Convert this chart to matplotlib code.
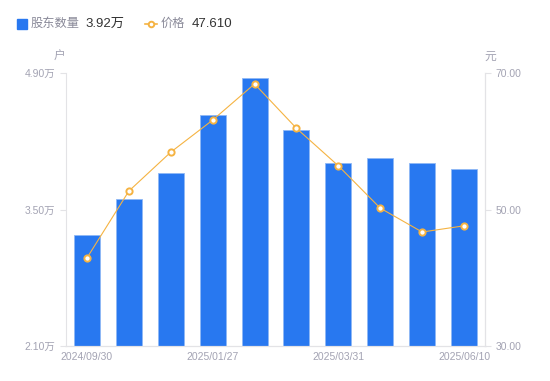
import matplotlib.pyplot as plt
import numpy as np

plt.rcParams['font.family'] = ['Liberation Sans', 'Noto Sans CJK SC', 'DejaVu Sans']

dates = ['2024/09/30', '2024/10/31', '2024/12/31', '2025/01/27', '2025/02/10',
         '2025/02/28', '2025/03/31', '2025/04/30', '2025/05/20', '2025/06/10']
holders = [3.24, 3.61, 3.87, 4.47, 4.85, 4.32, 3.98, 4.03, 3.98, 3.92]  # 万户
price = [42.9, 52.7, 58.4, 63.1, 68.4, 61.9, 56.4, 50.2, 46.7, 47.61]
left_ticks = [2.10, 3.50, 4.90]
right_ticks = [30.00, 50.00, 70.00]
shown_dates = ['2024/09/30', '2025/01/27', '2025/03/31', '2025/06/10']

bar_color = '#2878f0'
line_color = '#f5b342'
axis_grey = '#e3e3e6'
text_grey = '#a3a3b3'

fig = plt.figure(figsize=(5.5, 3.81), dpi=100)
ax = fig.add_axes([66 / 550, 1 - 346 / 381, 419 / 550, 273 / 381])
x = np.arange(len(dates))

ax.bar(x, holders, width=0.62, color=bar_color, edgecolor='#8fb8f5', linewidth=0.6, zorder=2)
ax.set_xlim(-0.5, len(dates) - 0.5)
ax.set_ylim(left_ticks[0], left_ticks[-1])
ax.set_yticks(left_ticks)
ax.set_yticklabels([f'{v:.2f}万' for v in left_ticks])
ax.set_xticks([dates.index(d) for d in shown_dates])
ax.set_xticklabels(shown_dates)

ax2 = ax.twinx()
ax2.plot(x, price, color=line_color, linewidth=0.8, marker='o', markersize=4.5,
         markerfacecolor='white', markeredgecolor=line_color, markeredgewidth=1.4, zorder=3)
ax2.set_ylim(right_ticks[0], right_ticks[-1])
ax2.set_yticks(right_ticks)
ax2.set_yticklabels([f'{v:.2f}' for v in right_ticks])

for a in (ax, ax2):
    for s in a.spines.values():
        s.set_color(axis_grey)
    a.spines['top'].set_visible(False)
    a.tick_params(colors=axis_grey, labelcolor=text_grey, labelsize=7.5, length=4, width=0.8)
ax.tick_params(axis='x', length=0, pad=4)
ax2.spines['left'].set_visible(False)

# unit labels
fig.text(59 / 550, 1 - 57 / 381, '户', color=text_grey, fontsize=8.5, ha='center', va='center')
fig.text(490 / 550, 1 - 57 / 381, '元', color=text_grey, fontsize=8.5, ha='center', va='center')

# legend header
ly = 1 - 24 / 381
fig.patches.append(plt.Rectangle((17 / 550, 1 - 29 / 381), 10 / 550, 10 / 381,
                                 transform=fig.transFigure, color=bar_color))
fig.text(31 / 550, ly, '股东数量', color='#8a8a99', fontsize=8.8, va='center')
fig.text(85 / 550, ly, '3.92万', color='#333333', fontsize=9.5, va='center')
fig.lines.append(plt.Line2D([145 / 550, 157 / 550], [ly, ly], transform=fig.transFigure,
                            color=line_color, linewidth=1.2))
fig.lines.append(plt.Line2D([151 / 550], [ly], transform=fig.transFigure, marker='o',
                            markersize=4, markerfacecolor='white', markeredgecolor=line_color,
                            markeredgewidth=1.4))
fig.text(161 / 550, ly, '价格', color='#8a8a99', fontsize=8.8, va='center')
fig.text(192 / 550, ly, '47.610', color='#333333', fontsize=9.5, va='center')

fig.savefig('out.png', dpi=100)
